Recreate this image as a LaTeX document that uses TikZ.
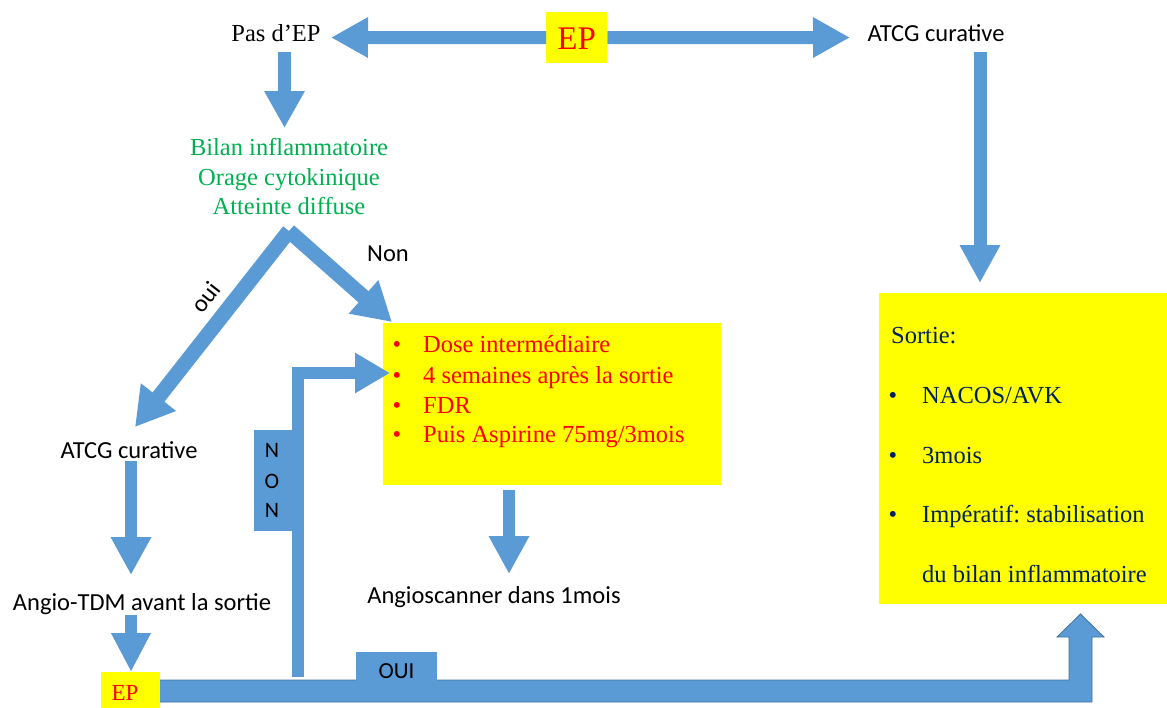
\documentclass[tikz,border=0pt]{standalone}
\usepackage{fontspec}
\setmainfont{Liberation Serif}
\newfontfamily\calibri{Carlito}
\usetikzlibrary{arrows.meta}
\definecolor{arrowblue}{HTML}{5B9BD5}
\definecolor{arrowedge}{HTML}{41719C}
\definecolor{hilite}{HTML}{FFFF00}
\definecolor{textred}{HTML}{FF0000}
\definecolor{textgreen}{HTML}{00B050}
\definecolor{navy}{HTML}{002060}
\frenchspacing
\begin{document}
\begin{tikzpicture}[x=1pt,y=-1pt,
  serif/.style={font=\fontsize{24.5}{29}\selectfont, inner sep=0pt},
  sans/.style={font=\calibri\fontsize{24.5}{29}\selectfont, inner sep=0pt},
  fat/.style={draw=arrowblue, line width=13pt, -{Triangle[width=38pt,length=37pt]}},
  slim/.style={draw=arrowblue, line width=12pt, -{Triangle[width=38pt,length=38pt]}},
  fork/.style={draw=arrowblue, line width=15pt, -{Triangle[width=42pt,length=38pt]}},
  yellowbox/.style={fill=hilite, draw=none},
  tabbox/.style={fill=arrowblue, draw=none}
]
\useasboundingbox (0,0) rectangle (1167,707);

% ---------- top row ----------
\node[serif, anchor=base] (pas) at (276,41) {Pas d’EP};
\node[sans, anchor=base] (atcgR) at (936,41) {ATCG curative};
\node[yellowbox, minimum width=61pt, minimum height=51pt, anchor=north west] (ep1) at (546,12) {};
\coordinate (leftTip) at (331,37.5);
\coordinate (rightTip) at (850,37.5);
\draw[fat] (ep1.west) -- (leftTip);
\draw[fat] (ep1.east) -- (rightTip);
\node[font=\fontsize{33}{38}\selectfont, text=textred, inner sep=0pt, anchor=base] (ep1t) at (ep1.center |- 0,49) {EP};

% ---------- left branch ----------
\coordinate (pasOut) at (284.5,52);
\coordinate (bilanIn) at (284.5,128);
\draw[fat] (pasOut) -- (bilanIn);

\node[serif, text=textgreen, anchor=base] (bilan1) at (289,155) {Bilan inflammatoire};
\node[serif, text=textgreen, anchor=base] (bilan2) at (289,185) {Orage cytokinique};
\node[serif, text=textgreen, anchor=base] (bilan3) at (289,214) {Atteinte diffuse};

\coordinate (apex) at (289,231);
\coordinate (ouiTip) at (135,427);
\coordinate (nonTip) at (392,322);
\draw[fork] (apex) -- (ouiTip);
\draw[fork] (apex) -- (nonTip);
\node[sans, rotate=52] (oui) at (206,297) {oui};
\node[sans, anchor=base] (non) at (388,261) {Non};

% ---------- middle box ----------
\node[yellowbox, minimum width=338pt, minimum height=162pt, anchor=north west] (mid) at (383,323) {};
\foreach \y/\t in {352/{Dose intermédiaire}, 383/{4 semaines après la sortie}, 413/{FDR}, 442/{Puis Aspirine 75mg/3mois}}{
  \node[serif, text=textred, anchor=base] at (397,\y) {\textbullet};
  \node[serif, text=textred, anchor=base west] at (423,\y) {\t};
}
\coordinate (midOut) at (509,490);
\coordinate (scanIn) at (509,574);
\draw[slim] (midOut) -- (scanIn);
\node[sans, anchor=base] (scan) at (494,603) {Angioscanner dans 1mois};

% ---------- curative on the left ----------
\node[sans, anchor=base] (atcgL) at (129,458) {ATCG curative};
\coordinate (atcgLout) at (131,461);
\coordinate (tdmIn) at (131,575);
\draw[slim, line width=11.5pt] (atcgLout) -- (tdmIn);
\node[sans, anchor=base] (tdm) at (142,610) {Angio-TDM avant la sortie};
\coordinate (tdmOut) at (131,615);
\coordinate (ep2In) at (131,672);
\draw[slim, -{Triangle[width=37pt,length=39pt]}] (tdmOut) -- (ep2In);

% ---------- bottom bar (bent arrow up to the right box) ----------
\draw[fill=arrowblue, draw=arrowedge, line width=0.8pt]
  (155,680) -- (1069,680) -- (1069,637) -- (1057,637) -- (1080.5,614)
  -- (1104,637) -- (1092,637) -- (1092,702) -- (155,702) -- cycle;
\node[tabbox, minimum width=81pt, minimum height=30pt, anchor=north west] (ouiTab) at (356,652) {};
\node[sans, font=\calibri\fontsize{23}{28}\selectfont, anchor=base] at (396.5,678) {OUI};

% ---------- NON return arrow ----------
\coordinate (nonFoot) at (298,677);
\coordinate (nonCorner) at (298,373);
\coordinate (nonTip2) at (390,373);
\draw[draw=arrowblue, line width=12pt, -{Triangle[width=38pt,length=35pt]}]
  (nonFoot) -- (nonCorner) -- (nonTip2);
\node[tabbox, minimum width=44pt, minimum height=101pt, anchor=north west] (nonTab) at (254,430) {};
\begin{scope}[every node/.style={sans, font=\calibri\fontsize{22}{26}\selectfont, anchor=base}]
\node at (272,457) {N};
\node at (272,488) {O};
\node at (272,517) {N};
\end{scope}

\node[yellowbox, minimum width=59pt, minimum height=36pt, anchor=north west] (ep2) at (101,672) {};
\node[font=\fontsize{23}{28}\selectfont, text=textred, inner sep=0pt, anchor=base] at (125,700) {EP};

% ---------- right column ----------
\coordinate (atcgRout) at (980,52);
\coordinate (sortieIn) at (980,283);
\draw[fat, -{Triangle[width=38pt,length=38pt]}] (atcgRout) -- (sortieIn);
\node[yellowbox, minimum width=288pt, minimum height=311pt, anchor=north west] (sortie) at (879,293) {};
\node[serif, text=navy, anchor=base west] at (891,343) {Sortie:};
\foreach \y/\t in {403/{NACOS/AVK}, 463/{3mois}, 522/{Impératif: stabilisation}}{
  \node[serif, text=navy, anchor=base] at (893,\y) {\textbullet};
  \node[serif, text=navy, anchor=base west] at (922,\y) {\t};
}
\node[serif, text=navy, anchor=base west] at (922,582) {du bilan inflammatoire};
\end{tikzpicture}
\end{document}
